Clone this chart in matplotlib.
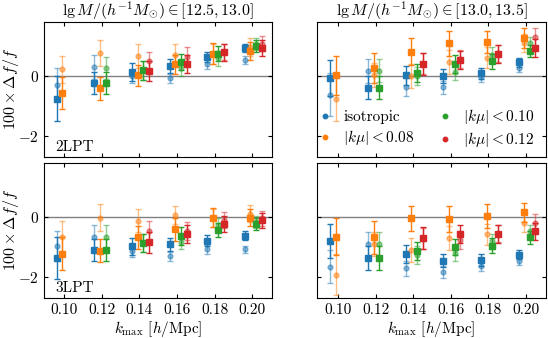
import numpy as np
import matplotlib
matplotlib.use('Agg')
import matplotlib.pyplot as plt
from matplotlib.lines import Line2D

plt.rcParams['font.family'] = 'serif'
plt.rcParams['font.serif'] = ['cmr10']
plt.rcParams['mathtext.fontset'] = 'cm'
plt.rcParams['axes.formatter.use_mathtext'] = True
plt.rcParams['font.size'] = 11

kmax = [0.10, 0.12, 0.14, 0.16, 0.18, 0.20]
labels = ['isotropic', r'$|k\mu|<0.08$', r'$|k\mu|<0.10$', r'$|k\mu|<0.12$']
colors = ['C0', 'C1', 'C2', 'C3']
first = [0, 0, 1, 2]          # first kmax bin of each series
shift = [-0.004, -0.001, 0.002, 0.005]
titles = [r'$\lg M/(h^{-1}M_{\odot})\in[12.5,13.0]$',
          r'$\lg M/(h^{-1}M_{\odot})\in[13.0,13.5]$']
rows = ['2LPT', '3LPT']

# low mass, 2LPT  (squares = dark, circles = faded)
lo2_sq = [[-0.76, -0.24, 0.13, 0.33, 0.64, 0.92],
          [-0.57, -0.42, 0.02, 0.38, 0.74, 0.84],
          [-0.24, 0.19, 0.46, 0.74, 1.00],
          [0.17, 0.41, 0.78, 0.93]]
lo2_sq_err = [[0.75, 0.37, 0.30, 0.22, 0.17, 0.14],
              [0.53, 0.38, 0.35, 0.32, 0.36, 0.30],
              [0.37, 0.32, 0.28, 0.26, 0.20],
              [0.34, 0.30, 0.28, 0.26]]
lo2_ci = [[-0.30, 0.28, -0.02, -0.08, 0.38, 0.53],
          [0.22, 0.76, 0.67, 0.71, 0.74, 0.95],
          [0.27, 0.18, 0.26, 0.58, 1.05],
          [0.48, 0.64, 0.80, 1.07]]
lo2_ci_err = [[0.55, 0.40, 0.22, 0.15, 0.15, 0.12],
              [0.45, 0.42, 0.40, 0.35, 0.33, 0.30],
              [0.36, 0.33, 0.26, 0.25, 0.20],
              [0.33, 0.31, 0.27, 0.25]]

# high mass, 2LPT
hi2_sq = [[-0.08, -0.40, 0.02, -0.01, 0.09, 0.46],
          [0.02, 0.27, 0.81, 1.09, 1.13, 1.26],
          [-0.40, 0.09, 0.39, 0.49, 0.84],
          [0.39, 0.53, 0.72, 0.93]]
hi2_sq_err = [[0.60, 0.38, 0.32, 0.24, 0.18, 0.15],
              [0.65, 0.50, 0.45, 0.42, 0.38, 0.33],
              [0.38, 0.30, 0.30, 0.25, 0.20],
              [0.37, 0.30, 0.30, 0.29]]
hi2_ci = [[-0.62, 0.17, -0.36, -0.38, -0.04, 0.26],
          [-0.76, 0.02, -0.01, 0.47, 0.61, 1.08],
          [0.17, 0.01, 0.13, 0.70, 1.08],
          [0.40, 0.55, 0.75, 1.31]]
hi2_ci_err = [[0.70, 0.40, 0.30, 0.22, 0.18, 0.12],
              [0.75, 0.40, 0.40, 0.40, 0.35, 0.30],
              [0.38, 0.30, 0.28, 0.25, 0.22],
              [0.35, 0.30, 0.28, 0.30]]

# low mass, 3LPT
lo3_sq = [[-1.35, -1.10, -0.97, -0.91, -0.79, -0.62],
          [-1.22, -1.12, -0.68, -0.41, -0.02, -0.02],
          [-1.10, -0.88, -0.63, -0.43, -0.24],
          [-0.84, -0.57, -0.23, -0.11]]
lo3_sq_err = [[0.70, 0.37, 0.28, 0.21, 0.18, 0.15],
              [0.55, 0.38, 0.37, 0.38, 0.32, 0.28],
              [0.37, 0.30, 0.30, 0.22, 0.20],
              [0.35, 0.30, 0.26, 0.25]]
lo3_ci = [[-0.97, -0.68, -1.13, -1.30, -1.08, -1.07],
          [-0.68, -0.02, -0.12, 0.08, -0.02, 0.11],
          [-0.68, -0.85, -0.82, -0.27, -0.16],
          [-0.47, -0.47, -0.10, -0.05]]
lo3_ci_err = [[0.50, 0.40, 0.20, 0.15, 0.15, 0.12],
              [0.55, 0.45, 0.38, 0.30, 0.30, 0.28],
              [0.40, 0.30, 0.25, 0.22, 0.20],
              [0.33, 0.30, 0.25, 0.25]]

# high mass, 3LPT
hi3_sq = [[-0.80, -1.35, -1.24, -1.46, -1.43, -1.25],
          [-0.65, -0.68, -0.05, -0.07, 0.02, 0.15],
          [-1.35, -1.13, -1.00, -0.95, -0.67],
          [-0.71, -0.56, -0.55, -0.47]]
hi3_sq_err = [[0.58, 0.40, 0.30, 0.22, 0.19, 0.16],
              [0.60, 0.55, 0.42, 0.42, 0.40, 0.30],
              [0.40, 0.30, 0.28, 0.25, 0.22],
              [0.37, 0.30, 0.30, 0.28]]
hi3_ci = [[-1.66, -0.91, -1.71, -1.82, -1.62, -1.45],
          [-1.92, -0.90, -1.11, -0.69, -0.58, -0.21],
          [-0.91, -1.26, -1.21, -0.80, -0.47],
          [-0.72, -0.78, -0.55, -0.19]]
hi3_ci_err = [[0.55, 0.40, 0.25, 0.20, 0.18, 0.15],
              [0.68, 0.40, 0.40, 0.40, 0.35, 0.30],
              [0.40, 0.30, 0.27, 0.25, 0.22],
              [0.35, 0.30, 0.28, 0.28]]

panels = [[(lo2_sq, lo2_sq_err, lo2_ci, lo2_ci_err), (hi2_sq, hi2_sq_err, hi2_ci, hi2_ci_err)],
          [(lo3_sq, lo3_sq_err, lo3_ci, lo3_ci_err), (hi3_sq, hi3_sq_err, hi3_ci, hi3_ci_err)]]

fig = plt.figure(figsize=(5.48, 3.38), dpi=100)
lefts = [0.0795, 0.579]
bottoms = [0.5355, 0.118]
w, h = 0.417, 0.40

for r in range(2):
    for c in range(2):
        ax = fig.add_axes([lefts[c], bottoms[r], w, h])
        sq, sq_err, ci, ci_err = panels[r][c]
        ax.axhline(0, color='gray', lw=1.0, zorder=0)
        for i in range(4):
            x = np.array(kmax[first[i]:]) + shift[i]
            ax.errorbar(x, ci[i], yerr=ci_err[i], fmt='o', color=colors[i], alpha=0.5,
                        ms=3.5, capsize=2.5, elinewidth=1.0, capthick=1.0)
            ax.errorbar(x, sq[i], yerr=sq_err[i], fmt='s', color=colors[i],
                        ms=3.8, capsize=2.5, elinewidth=1.0, capthick=1.0)
        ax.set_xlim(0.089, 0.2105)
        ax.set_ylim(-2.7, 1.8)
        ax.set_xticks(kmax)
        ax.set_yticks([-2, 0])
        ax.tick_params(direction='in', top=True, right=True, length=3)
        if r == 0:
            ax.set_xticklabels([])
            ax.set_title(titles[c], fontsize=11.5, pad=4)
        else:
            ax.set_xticklabels(['%.2f' % k for k in kmax])
            ax.set_xlabel(r'$k_{\rm max}$ [$h$/Mpc]', labelpad=2)
        if c == 0:
            ax.set_ylabel(r'$100\times\Delta f/f$', fontsize=11.5)
            ax.yaxis.set_label_coords(-0.10, 0.5)
            ax.text(0.05, 0.045, rows[r], transform=ax.transAxes)
        else:
            ax.set_yticklabels([])
        if r == 0 and c == 1:
            handles = [Line2D([], [], marker='o', ls='none', color=colors[i], ms=3.2)
                       for i in range(4)]
            ax.legend(handles, labels, ncol=2, loc='lower left', frameon=False,
                      bbox_to_anchor=(0.0, 0.035), borderaxespad=0, borderpad=0.2,
                      handletextpad=0.9, columnspacing=1.7, labelspacing=0.28,
                      handlelength=0.6)

fig.savefig('out.png', dpi=100)
